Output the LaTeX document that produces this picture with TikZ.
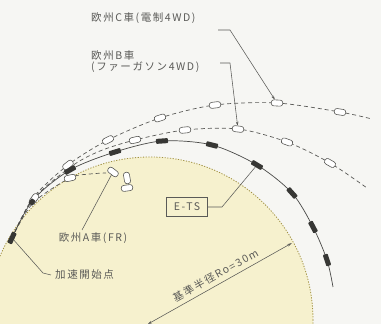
\documentclass[tikz,border=0pt]{standalone}
\usepackage{fontspec}
\newfontfamily\jp[LetterSpace=15]{Noto Sans CJK JP}
\usepackage{tikz}
\usetikzlibrary{arrows.meta}
\usepackage{xcolor}
\definecolor{bgpaper}{RGB}{246,246,243}
\definecolor{padfill}{RGB}{246,241,206}
\definecolor{padedge}{RGB}{160,145,65}
\definecolor{inkgrey}{RGB}{90,90,87}
\definecolor{carblack}{RGB}{55,55,52}

\begin{document}
\begin{tikzpicture}[x=1pt,y=1pt,
    lab/.style={font=\jp\fontsize{10.5}{11}\selectfont,text=inkgrey,inner sep=0pt},
    ocar/.style={draw=inkgrey,fill=white,rounded corners=2.5pt,minimum width=11.5pt,minimum height=6pt,inner sep=0pt,line width=0.6pt},
    bcar/.style={fill=carblack,rounded corners=0.8pt,minimum width=12pt,minimum height=5pt,inner sep=0pt},
    run/.style={inkgrey,line width=0.7pt,dash pattern=on 4pt off 3pt},
    lead/.style={inkgrey,line width=0.55pt},
    tip/.style={-{Stealth[length=4pt,width=2.6pt]}}]
        \useasboundingbox (0,0) rectangle (381,324);
        \fill[bgpaper] (0,0) rectangle (381,324);
        % test pad, R0 = 30 m
        \begin{scope}
          \clip (0,0) rectangle (381,324);
          \fill[padfill] (150,4) circle (163);
          \draw[padedge,line width=0.8pt,dash pattern=on 1.2pt off 1.5pt] (150,4) circle (163);
        \end{scope}
        % car paths
        \draw[run] plot[smooth] coordinates {(12,86) (33,126) (68,159) (108,184) (160,206) (215,219) (277,221) (340,212) (372,205)};
        \draw[run] plot[smooth] coordinates {(12,86) (33,125) (72,158) (100,173) (135,184) (185,194) (238,195) (287,182) (330,161) (367,136)};
        \draw[run] plot[smooth] coordinates {(12,86) (33,121) (70,146) (90,150) (106,151)};
        \draw[inkgrey!80!black,line width=0.7pt] plot[smooth] coordinates
          {(12,86) (33,124) (70,154) (115,172) (162,183) (212,179) (257,159) (292,131) (313,97) (327,64) (333,37)};
        % car positions
        \foreach \x/\y/\r [count=\i] in {68/159/38,108/184/27,160/206/18,215/219/7,277/221/-3,340/212/-9}{
          \node[ocar,rotate=\r] (c\i) at (\x,\y) {};
        }
        \foreach \x/\y/\r [count=\i] in {135/184/13,185/194/6,238/195/-7,287/182/-20,330/161/-30}{
          \node[ocar,rotate=\r] (b\i) at (\x,\y) {};
        }
        \foreach \x/\y/\r [count=\i] in {70/154/30,115/172/17,162/183/4,212/179/-14,257/159/-31,292/131/-48,313/97/-62,327/64/-72}{
          \node[bcar,rotate=\r] (e\i) at (\x,\y) {};
        }
        \node[bcar,rotate=65] (e0) at (12,86) {};
        \node[ocar,rotate=55] (s0) at (34,125) {};
        \node[bcar,rotate=55,minimum width=6pt] (s1) at (32,122) {};
        \node[ocar,rotate=12] (a1) at (70,146) {};
        \node[ocar,rotate=-37] (a2) at (113,152) {};
        \node[ocar,rotate=100] (a3) at (127,146) {};
        \node[ocar,rotate=8] (a4) at (127,136) {};
        % labels
        \node[lab,anchor=west] (clab) at (91,306) {欧州C車(電制4WD)};
        \node[lab,anchor=west,align=left] (blab) at (91,262) {欧州B車\\(ファーガソン4WD)};
        \node[lab] (alab) at (93,86) {欧州A車(FR)};
        \node[lab,anchor=west] (slab) at (55,49) {加速開始点};
        \node[lab,draw=inkgrey,line width=0.7pt,minimum width=41pt,minimum height=19pt] (ets) at (187,117) {E-TS};
        \coordinate (ctail) at (218,294);
        \coordinate (ckink) at (230,294);
        \coordinate (btail) at (220,261);
        \coordinate (bkink) at (230,261);
        \coordinate (atail) at (82,94);
        \coordinate (skink) at (43,51);
        \coordinate (tkink) at (222,117);
        \draw[lead,tip] (ctail) -- (ckink) -- (c5);
        \draw[lead,tip] (btail) -- (bkink) -- (b3);
        \draw[lead] (atail) -- (a2);
        \draw[lead] (e0) -- (skink) -- ([xshift=-4pt]slab.west);
        \draw[lead] (ets.east) -- (tkink) -- (e5);
        % radius
        \coordinate (ctr) at (148,0);
        \coordinate (rim) at (292,81);
        \draw[lead,{Stealth[length=4pt,width=2.6pt]}-{Stealth[length=5pt,width=2.6pt]}] (ctr) -- (rim)
          node[lab,midway,sloped,above=4pt] (rlab) {基準半径Ro=30m};
      \end{tikzpicture}
\end{document}
